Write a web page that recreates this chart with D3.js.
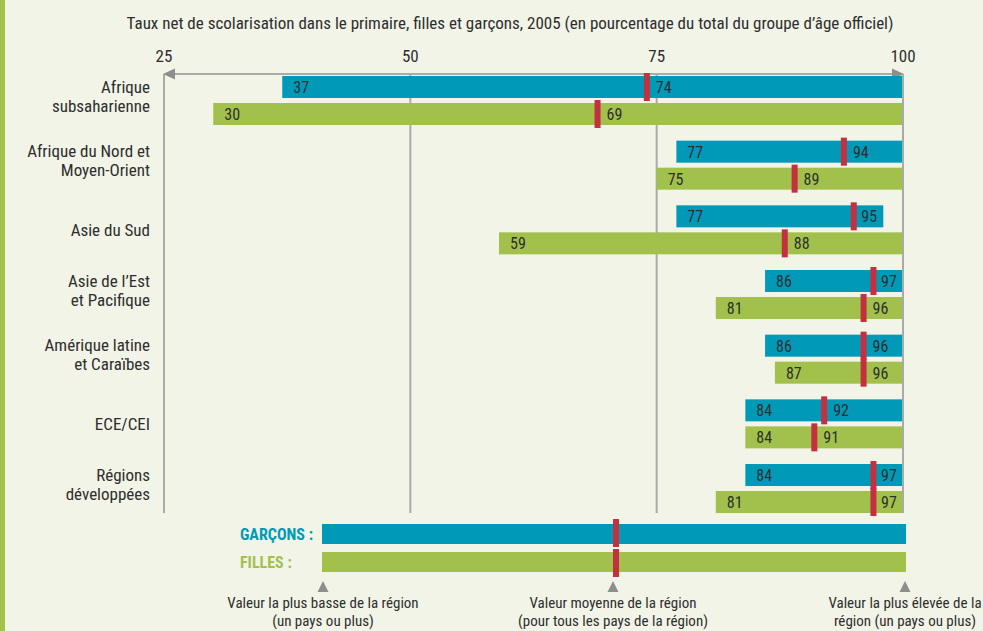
<!DOCTYPE html>
<html><head><meta charset="utf-8">
<script src="https://cdn.jsdelivr.net/npm/d3@7/dist/d3.min.js"></script>
<style>body{margin:0;background:#f1f4e7;} text{font-family:'Roboto Condensed','Liberation Sans',sans-serif;}</style>
</head><body>
<svg id="c" width="983" height="631"></svg>
<script>
// ---- data ----
const title = "Taux net de scolarisation dans le primaire, filles et garçons, 2005 (en pourcentage du total du groupe d’âge officiel)";
const categories = ["Afrique subsaharienne","Afrique du Nord et Moyen-Orient","Asie du Sud","Asie de l’Est et Pacifique","Amérique latine et Caraïbes","ECE/CEI","Régions développées"];
const categoryLines = [["Afrique","subsaharienne"],["Afrique du Nord et","Moyen-Orient"],["Asie du Sud"],["Asie de l’Est","et Pacifique"],["Amérique latine","et Caraïbes"],["ECE/CEI"],["Régions","développées"]];
const boysMin  = [37,77,77,86,86,84,84];
const boysMean = [74,94,95,97,96,92,97];
const boysMax  = [100,100,98,100,100,100,100];
const girlsMin  = [30,75,59,81,87,84,81];
const girlsMean = [69,89,88,96,96,91,97];
const girlsMax  = [100,100,100,100,100,100,100];
const tickValues = [25,50,75,100];
const legendSeries = ["GARÇONS :","FILLES :"];
const legendKeys = ["min","mean","max"];
const legendLabels = [["Valeur la plus basse de la région","(un pays ou plus)"],["Valeur moyenne de la région","(pour tous les pays de la région)"],["Valeur la plus élevée de la","région (un pays ou plus)"]];

const C_BOYS="#009ab8", C_GIRLS="#a2c14c", C_MEAN="#c43040", C_GRID="#a9aba8", C_TEXT="#2e2e2e";

const svg=d3.select("#c");
svg.append("rect").attr("width",983).attr("height",631).attr("fill","#f1f4e7");
svg.append("rect").attr("x",0).attr("y",0).attr("width",5).attr("height",631).attr("fill","#a3c24c");

const x=d3.scaleLinear().domain([25,100]).range([164,903]);
const y=d3.scaleBand().domain(categories).range([76,76+7*64.67]).paddingInner(0);
const barH=22, gap=4;

const series=[
  {key:"boys",min:boysMin,mean:boysMean,max:boysMax,color:C_BOYS,off:0},
  {key:"girls",min:girlsMin,mean:girlsMean,max:girlsMax,color:C_GIRLS,off:barH+gap+1}
];

// title
svg.append("text").attr("x",510).attr("y",29).attr("text-anchor","middle").attr("font-size",17).attr("fill",C_TEXT).text(title);

// ticks
const gTop=y.range()[0]-2, gBot=513;
svg.selectAll(".tl").data(tickValues).join("text").attr("x",d=>x(d)).attr("y",62).attr("text-anchor","middle").attr("font-size",17).attr("fill",C_TEXT).text(d=>d);
// gridlines
svg.selectAll(".grid").data(tickValues).join("line").attr("x1",d=>x(d)).attr("x2",d=>x(d)).attr("y1",gTop).attr("y2",gBot).attr("stroke",C_GRID).attr("stroke-width",2);
// top axis line with arrows
svg.append("line").attr("x1",x(25)+8).attr("x2",x(100)-8).attr("y1",gTop).attr("y2",gTop).attr("stroke",C_GRID).attr("stroke-width",2);
svg.append("path").attr("d",`M${x(25)-1},${gTop} l12,-5.5 v11 z`).attr("fill","#8e8f8d");
svg.append("path").attr("d",`M${x(100)+1},${gTop} l-12,-5.5 v11 z`).attr("fill","#8e8f8d");

// category labels
categories.forEach((c,i)=>{
  const cy=y(c)+(barH*2+gap+1)/2;
  const lines=categoryLines[i];
  const t=svg.append("text").attr("x",150).attr("text-anchor","end").attr("font-size",17).attr("fill",C_TEXT);
  if(lines.length===1) t.append("tspan").attr("x",150).attr("y",cy+6).text(lines[0]);
  else lines.forEach((l,j)=>t.append("tspan").attr("x",150).attr("y",cy-8+j*19).text(l));
});

// bars
series.forEach(s=>{
  const g=svg.append("g");
  const data=categories.map((c,i)=>({c,min:s.min[i],mean:s.mean[i],max:s.max[i]}));
  g.selectAll("rect.bar").data(data).join("rect").attr("class","bar")
    .attr("x",d=>x(d.min)).attr("y",d=>y(d.c)+s.off).attr("width",d=>x(d.max)-x(d.min)).attr("height",barH).attr("fill",s.color);
  s.data=data;
});
series.forEach(s=>{
  const g=svg.append("g");
  g.selectAll("rect.mean").data(s.data).join("rect")
    .attr("x",d=>x(d.mean)-3).attr("y",d=>y(d.c)+s.off-3).attr("width",6).attr("height",barH+6).attr("fill",C_MEAN);
  g.selectAll("text.mn").data(s.data).join("text")
    .attr("x",d=>x(d.min)+11).attr("y",d=>y(d.c)+s.off+17).attr("font-size",16).attr("fill",C_TEXT).text(d=>d.min);
  g.selectAll("text.me").data(s.data).join("text")
    .attr("x",d=>Math.min(x(d.mean)+9,x(d.max)-22)).attr("y",d=>y(d.c)+s.off+17).attr("font-size",16).attr("fill",C_TEXT).text(d=>d.mean);
});
// right axis line on top
svg.append("line").attr("x1",x(100)).attr("x2",x(100)).attr("y1",gTop).attr("y2",gBot).attr("stroke",C_GRID).attr("stroke-width",2);

// legend
const lx=d3.scalePoint().domain(legendKeys).range([322,906]);
const ly=d3.scaleBand().domain(legendSeries).range([524,572]).paddingInner(0.2857);
const lColors=[C_BOYS,C_GIRLS];
legendSeries.forEach((s,i)=>{
  const bw=ly.bandwidth();
  svg.append("rect").attr("x",lx("min")).attr("y",ly(s)).attr("width",lx("max")-lx("min")).attr("height",bw).attr("fill",lColors[i]);
  svg.append("rect").attr("x",lx("mean")-1).attr("y",ly(s)-(i===0?5:3)).attr("width",6).attr("height",bw+8).attr("fill",C_MEAN);
  svg.append("text").attr("x",240).attr("y",ly(s)+16).attr("font-size",16).attr("font-weight","bold").attr("fill",lColors[i]).text(s);
});
legendKeys.forEach((k,i)=>{
  const cx=lx(k)+(i===0?1:-1);
  svg.append("path").attr("d",`M${cx},581 l5.5,11 h-11 z`).attr("fill","#8e8f8d");
  legendLabels[i].forEach((l,j)=>svg.append("text").attr("x",cx).attr("y",608+j*18).attr("text-anchor","middle").attr("font-size",15).attr("fill",C_TEXT).text(l));
});
</script></body></html>
